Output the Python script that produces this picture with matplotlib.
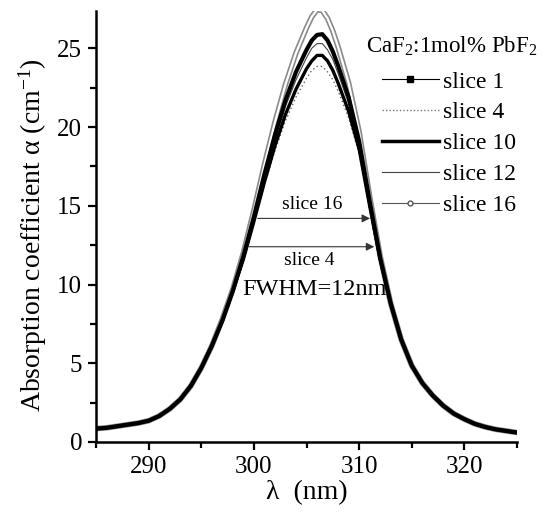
import matplotlib
matplotlib.use("Agg")
import matplotlib.pyplot as plt
from matplotlib.lines import Line2D

plt.rcParams['font.family'] = ['Liberation Serif', 'DejaVu Serif']
plt.rcParams['mathtext.fontset'] = 'custom'
plt.rcParams['mathtext.rm'] = 'Liberation Serif'
plt.rcParams['mathtext.it'] = 'Liberation Serif:italic'

# wavelength (nm)
wl = [285, 286, 287, 288, 289, 290, 291, 292, 293, 294, 295, 296, 297, 298, 299,
      300, 301, 302, 303, 304, 305, 305.5, 306, 306.5, 307, 307.5, 308, 309, 310,
      311, 312, 313, 314, 315, 316, 317, 318, 319, 320, 321, 322, 323, 324, 325]

# absorption coefficient (cm-1) per slice
s16 = [0.85, 0.9, 1.0, 1.1, 1.2, 1.35, 1.65, 2.1, 2.7, 3.55, 4.7, 6.1, 7.8, 9.7, 12.0,
       14.7, 17.6, 20.3, 22.7, 24.7, 26.3, 27.0, 27.45, 27.4, 26.9, 26.1, 25.1, 22.8, 19.7,
       15.6, 11.8, 8.8, 6.5, 4.85, 3.75, 2.95, 2.3, 1.8, 1.45, 1.15, 0.95, 0.8, 0.7, 0.6]
s1 = [0.85, 0.9, 1.0, 1.1, 1.2, 1.35, 1.65, 2.1, 2.7, 3.55, 4.7, 6.1, 7.7, 9.6, 11.8,
      14.3, 17.0, 19.5, 21.7, 23.5, 24.9, 25.5, 25.85, 25.9, 25.5, 24.8, 23.9, 21.9, 19.1,
      15.3, 11.7, 8.8, 6.5, 4.85, 3.75, 2.95, 2.3, 1.8, 1.45, 1.15, 0.95, 0.8, 0.7, 0.6]
s12 = [0.85, 0.9, 1.0, 1.1, 1.2, 1.35, 1.65, 2.1, 2.7, 3.55, 4.7, 6.1, 7.7, 9.6, 11.7,
       14.2, 16.8, 19.2, 21.3, 23.0, 24.4, 25.0, 25.3, 25.3, 24.9, 24.3, 23.4, 21.5, 18.9,
       15.2, 11.7, 8.8, 6.5, 4.85, 3.75, 2.95, 2.3, 1.8, 1.45, 1.15, 0.95, 0.8, 0.7, 0.6]
s10 = [0.85, 0.9, 1.0, 1.1, 1.2, 1.35, 1.65, 2.1, 2.7, 3.55, 4.7, 6.1, 7.7, 9.6, 11.6,
       14.0, 16.5, 18.8, 20.8, 22.4, 23.7, 24.2, 24.55, 24.55, 24.2, 23.6, 22.8, 21.0, 18.6,
       15.0, 11.6, 8.8, 6.5, 4.85, 3.75, 2.95, 2.3, 1.8, 1.45, 1.15, 0.95, 0.8, 0.7, 0.6]
s4 = [0.85, 0.9, 1.0, 1.1, 1.2, 1.35, 1.65, 2.1, 2.7, 3.55, 4.7, 6.1, 7.7, 9.6, 11.6,
      13.9, 16.3, 18.5, 20.4, 21.9, 23.1, 23.6, 23.85, 23.85, 23.5, 23.0, 22.3, 20.6, 18.3,
      14.9, 11.6, 8.8, 6.5, 4.85, 3.75, 2.95, 2.3, 1.8, 1.45, 1.15, 0.95, 0.8, 0.7, 0.6]

labels = ["slice 1", "slice 4", "slice 10", "slice 12", "slice 16"]

fig = plt.figure(figsize=(5.53, 5.13), dpi=100)
ax = fig.add_axes([96/553, 1-442/513, 421/553, 431/513])

# slice 16: chain of open circles -> grey tube
ax.plot(wl, s16, color="#8a8a8a", lw=4.0, solid_capstyle="butt", zorder=2)
ax.plot(wl, s16, color="white", lw=1.6, zorder=2.1)
ax.plot(wl, s4, color="#666666", lw=1.0, ls=(0, (1, 2)), zorder=3)
ax.plot(wl, s12, color="#444444", lw=0.8, zorder=3)
ax.plot(wl, s10, color="black", lw=2.4, zorder=4)
ax.plot(wl, s1, color="black", lw=3.0, zorder=4)

ax.set_xlim(285, 325)
ax.set_ylim(0, 27.37)
ax.set_xticks([290, 300, 310, 320])
ax.set_xticks([285, 295, 305, 315, 325], minor=True)
ax.set_yticks([0, 5, 10, 15, 20, 25])
ax.set_yticks([2.5, 7.5, 12.5, 17.5, 22.5], minor=True)
for sp in ["top", "right"]:
    ax.spines[sp].set_visible(False)
for sp in ["left", "bottom"]:
    ax.spines[sp].set_linewidth(1.8)
ax.tick_params(which="major", direction="out", length=6, width=1.6, labelsize=18, pad=4)
ax.tick_params(which="minor", direction="out", length=4, width=1.6)

ax.set_xlabel("λ  (nm)", fontsize=20)
ax.xaxis.set_label_coords(0.5, -0.088)
ax.set_ylabel("Absorption coefficient α (cm$^{-1}$)", fontsize=20)
ax.yaxis.set_label_coords(-0.112, 0.48)

# FWHM arrows
ax.annotate("", xy=(311.3, 14.2), xytext=(300.1, 14.2),
            arrowprops=dict(arrowstyle="-|>", color="#333333", lw=0.8, mutation_scale=12))
ax.annotate("", xy=(311.7, 12.4), xytext=(299.3, 12.4),
            arrowprops=dict(arrowstyle="-|>", color="#333333", lw=0.8, mutation_scale=12))
ax.text(305.5, 15.1, "slice 16", fontsize=14, ha="center", va="center")
ax.text(305.3, 11.55, "slice 4", fontsize=14, ha="center", va="center")
ax.text(305.8, 9.7, "FWHM=12nm", fontsize=17.5, ha="center", va="center")

handles = [
    Line2D([], [], color="black", lw=0.8, marker="s", ms=4),
    Line2D([], [], color="#777777", lw=1.0, ls=(0, (1, 1.5))),
    Line2D([], [], color="black", lw=2.5),
    Line2D([], [], color="#444444", lw=0.8),
    Line2D([], [], color="#555555", lw=0.8, marker="o", ms=3.5, mfc="white"),
]
fig.text(366/553, 1-46/513, "CaF$_2$:1mol% PbF$_2$", fontsize=16.5, ha="left", va="center")
fig.legend(handles, labels, loc="upper left", bbox_to_anchor=(382/553, 1-71/513),
           frameon=False, fontsize=17, handlelength=2.4, handletextpad=0.2,
           labelspacing=0.4, borderpad=0, borderaxespad=0)

fig.savefig("out.png", dpi=100)
